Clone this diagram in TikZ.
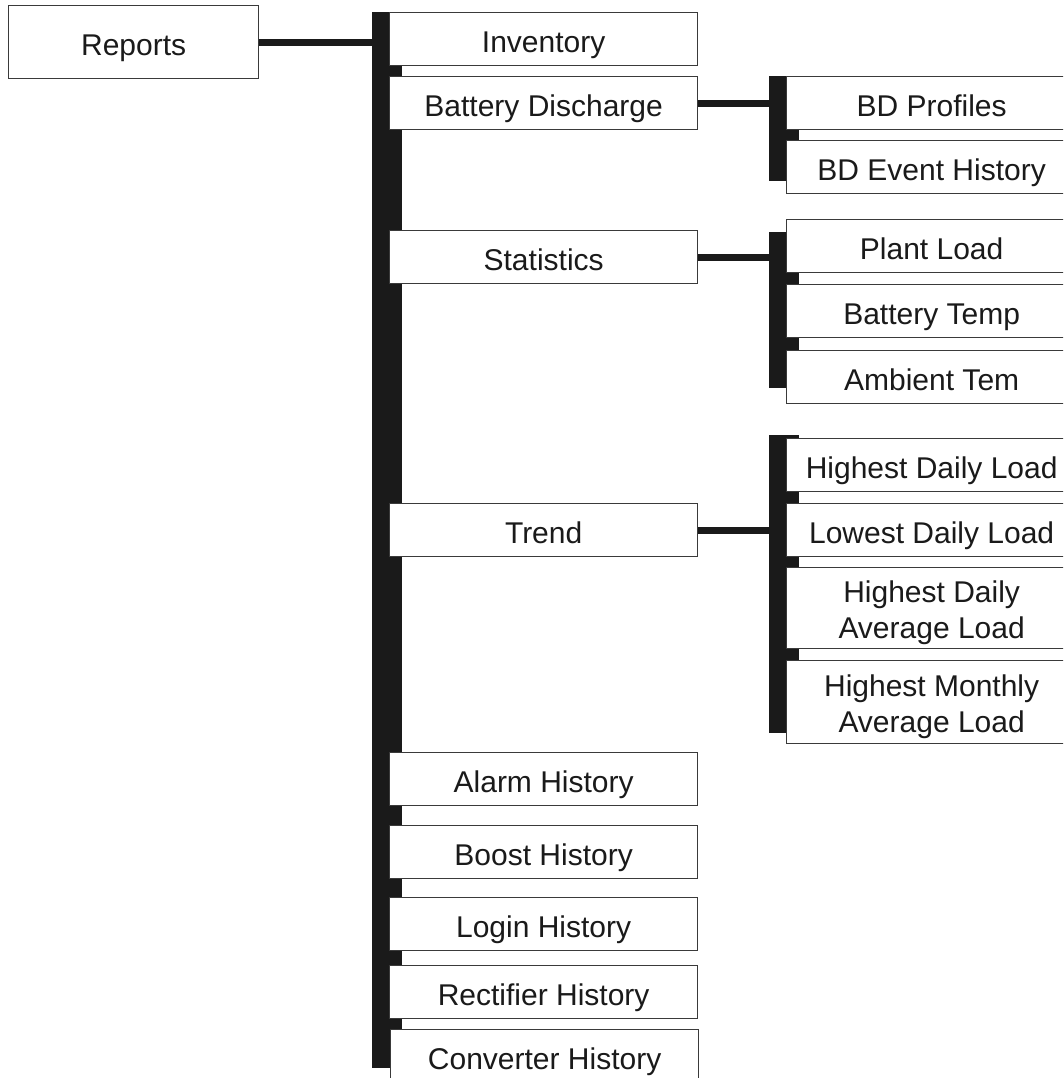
\documentclass[tikz,border=0pt]{standalone}
\usepackage{fontspec}
\setmainfont{Liberation Sans}
\begin{document}
\begin{tikzpicture}[x=1pt,y=-1pt,
  box/.style={draw=boxgray, line width=1.3pt, fill=white, inner sep=0pt, anchor=north west,
    align=center, text=ink, font=\fontsize{30}{35.5}\selectfont, text height=27pt, text depth=0pt},
  twoline/.style={text height=60pt, text depth=0pt},
  mainbox/.style={box, minimum width=308pt, minimum height=53pt},
  subbox/.style={box, minimum width=290pt, minimum height=53pt},
  bus/.style={fill=ink, draw=none, inner sep=0pt, anchor=north west, minimum width=30pt},
  conn/.style={draw=ink, line width=7pt}]
\definecolor{ink}{HTML}{1A1A1A}
\definecolor{boxgray}{HTML}{3A3A3A}
\useasboundingbox (0,0) rectangle (1063,1078);
\clip (0,0) rectangle (1063,1078);

% buses
\node[bus, minimum height=1056pt] (mbus) at (372,12) {};
\node[bus, minimum height=105pt] (bdbus) at (769,76) {};
\node[bus, minimum height=156pt] (stbus) at (769,232) {};
\node[bus, minimum height=298pt] (trbus) at (769,435) {};

% root
\node[box, minimum width=250pt, minimum height=73pt] (rep) at (8,5) {Reports};

% main column
\node[mainbox] (inv) at (389,12) {Inventory};
\node[mainbox] (bd) at (389,76) {Battery Discharge};
\node[mainbox] (st) at (389,230) {Statistics};
\node[mainbox] (tr) at (389,503) {Trend};
\node[mainbox] (al) at (389,752) {Alarm History};
\node[mainbox] (bo) at (389,825) {Boost History};
\node[mainbox] (lo) at (389,897) {Login History};
\node[mainbox] (re) at (389,965) {Rectifier History};
\node[mainbox] (co) at (390,1029) {Converter History};

% battery discharge children
\node[subbox] (bdp) at (786,76) {BD Profiles};
\node[subbox] (bde) at (786,140) {BD Event History};

% statistics children
\node[subbox] (pl) at (786,219) {Plant Load};
\node[subbox] (bt) at (786,284) {Battery Temp};
\node[subbox] (am) at (786,350) {Ambient Tem};

% trend children
\node[subbox] (hdl) at (786,438) {Highest Daily Load};
\node[subbox] (ldl) at (786,503) {Lowest Daily Load};
\node[subbox, twoline, minimum height=81pt] (hda) at (786,567) {Highest Daily\\Average Load};
\node[subbox, twoline, minimum height=83pt] (hma) at (786,660) {Highest Monthly\\Average Load};

% connectors
\draw[conn] (rep.east) -- (rep.east -| mbus.west);
\draw[conn] (bd.east) -- (bd.east -| bdbus.west);
\draw[conn] (st.east) -- (st.east -| stbus.west);
\draw[conn] (tr.east) -- (tr.east -| trbus.west);
\end{tikzpicture}
\end{document}
